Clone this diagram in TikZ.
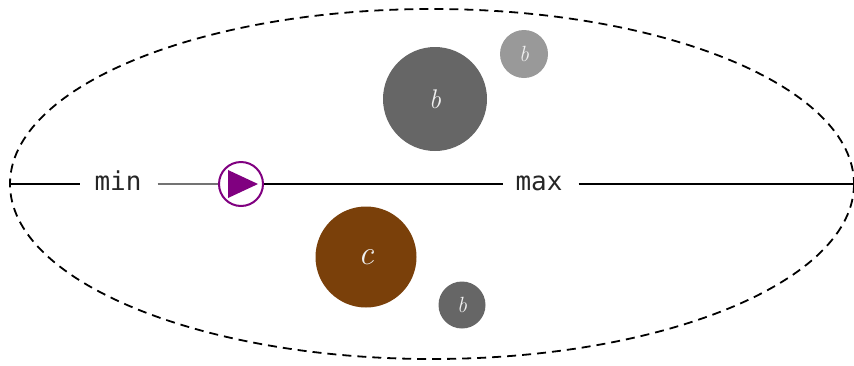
\documentclass[tikz,border=0pt]{standalone}
\usepackage{fontspec}
\setmonofont{DejaVu Sans Mono}
\usetikzlibrary{arrows.meta,positioning,calc}
\usepackage{xcolor}
\definecolor{ballgray}{RGB}{102,102,102}
\definecolor{balllight}{RGB}{153,153,153}
\definecolor{ballbrown}{RGB}{122,64,10}
\definecolor{playpurple}{RGB}{128,0,128}
\tikzset{
    ball/.style={
        circle,fill=#1,draw=none,inner sep=0pt,
        text=white!88!gray
    },
    ball/.default=ballgray,
    axis/.style={
        line width=2pt,draw=black
    },
    tag/.style={
        inner sep=0pt,text height=14pt,text depth=2pt,
        font=\fontsize{26}{30}\selectfont\ttfamily,text=black!85
    }
}

\begin{document}
\begin{tikzpicture}[x=1pt,y=-1pt]

\useasboundingbox (0,0) rectangle (854,365);

% outer boundary
\draw[line width=1.8pt,dash pattern=on 9pt off 6pt]
(432,184) ellipse [x radius=422,y radius=175];

\coordinate (lft) at (10,184);
\coordinate (rgt) at (854,184);

\node[tag] (mn) at (118,184) {min};
\node[tag] (mx) at (539,184) {max};

\node[
circle,draw=playpurple,line width=2pt,fill=white,
minimum size=44pt,inner sep=0pt
]
(play) at (241,184) {};
\fill[playpurple] ($(play)+(-13,-14)$) -- ($(play)+(17,0)$)
-- ($(play)+(-13,14)$) -- cycle;

\draw[axis] (lft) -- ($(mn.west)+(-14,0)$);
\draw[axis,draw=black!55] ($(mn.east)+(16,0)$) -- (play.west);
\draw[axis] (play.east) -- ($(mx.west)+(-12,0)$);
\draw[axis] ($(mx.east)+(16,0)$) -- (rgt);

% the balls
\node[ball,minimum size=104pt,font=\fontsize{27}{30}\selectfont\itshape]
(b1) at (435,99) {b};
\node[ball=balllight,minimum size=48pt,font=\fontsize{22}{24}\selectfont\itshape]
(b2) at (524,54) {b};
\node[ball=ballbrown,minimum size=101pt,font=\fontsize{34}{36}\selectfont\itshape]
(c1) at (366,257) {c};
\node[ball,minimum size=47pt,font=\fontsize{22}{24}\selectfont\itshape]
(b3) at (462,305) {b};

\end{tikzpicture}
\end{document}
